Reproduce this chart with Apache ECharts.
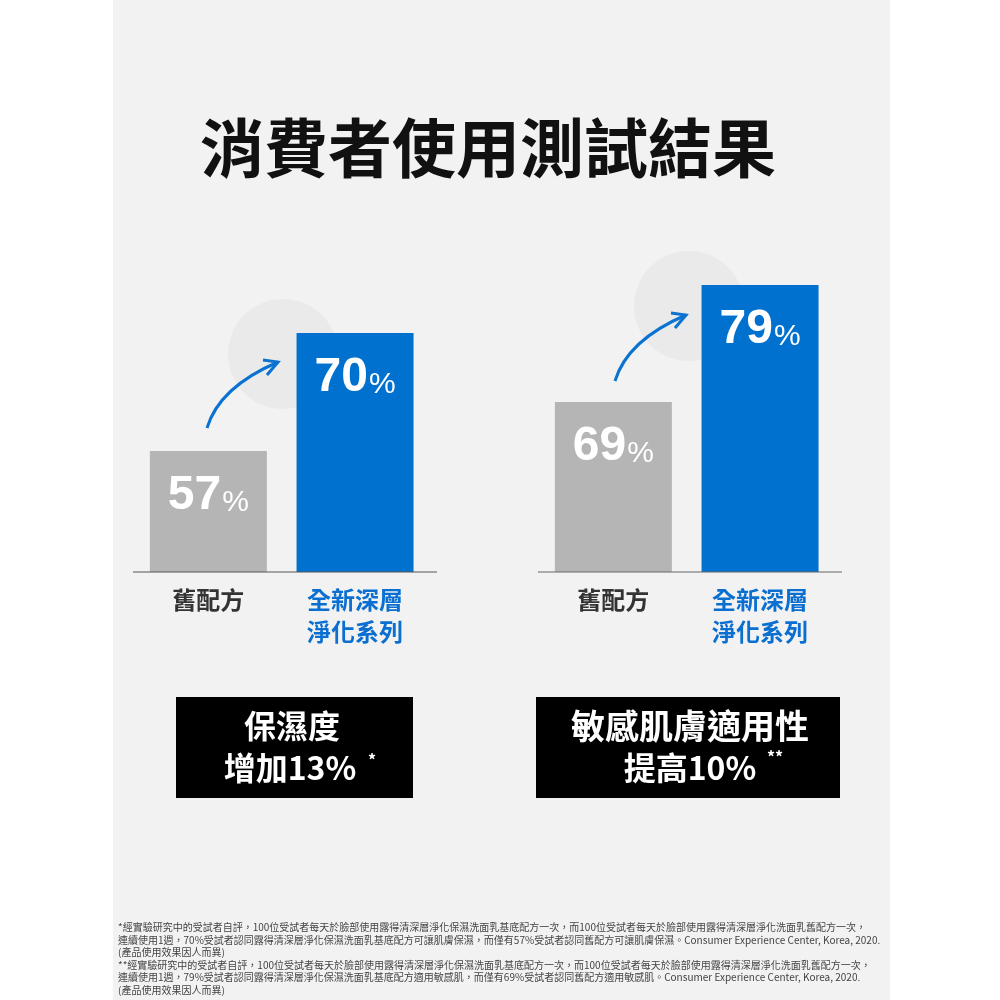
<!DOCTYPE html>
<html>
<head>
<meta charset="utf-8">
<script src="https://cdn.jsdelivr.net/npm/echarts@6/dist/echarts.min.js"></script>
<style>
html,body{margin:0;padding:0;background:#fff;}
#chart{width:1000px;height:1000px;}
</style>
</head>
<body>
<div id="chart"></div>
<script>
// ---- data ----
const titleText = '消費者使用測試結果';
const categories = ['舊配方', '全新深層\n淨化系列'];
const moistureValues = [57, 70];      // 保濕度
const sensitiveValues = [69, 79];     // 敏感肌膚適用性
const boxLine1 = ['保濕度', '敏感肌膚適用性'];
const boxLine2 = ['增加13%', '提高10%'];
const boxMarks = ['*', '**'];
const footnotes = [
  '*經實驗研究中的受試者自評，100位受試者每天於臉部使用露得清深層淨化保濕洗面乳基底配方一次，而100位受試者每天於臉部使用露得清深層淨化洗面乳舊配方一次，',
  '連續使用1週，70%受試者認同露得清深層淨化保濕洗面乳基底配方可讓肌膚保濕，而僅有57%受試者認同舊配方可讓肌膚保濕。Consumer Experience Center, Korea, 2020.',
  '(產品使用效果因人而異)',
  '**經實驗研究中的受試者自評，100位受試者每天於臉部使用露得清深層淨化保濕洗面乳基底配方一次，而100位受試者每天於臉部使用露得清深層淨化洗面乳舊配方一次，',
  '連續使用1週，79%受試者認同露得清深層淨化保濕洗面乳基底配方適用敏感肌，而僅有69%受試者認同舊配方適用敏感肌。Consumer Experience Center, Korea, 2020.',
  '(產品使用效果因人而異)'
];

// ---- styles ----
const GRAY = '#b5b5b5';
const BLUE = '#0071ce';
const CJK = '"Noto Sans CJK TC", "Noto Sans CJK SC", sans-serif';
const NUM = '"Liberation Sans", Arial, sans-serif';
const barColors = [GRAY, BLUE];
const labelColors = ['#333333', '#0a6fd0'];

function barData(vals) {
  return vals.map((v, i) => ({ value: v, itemStyle: { color: barColors[i] } }));
}
function catData() {
  return categories.map((c, i) => ({ value: c, textStyle: { color: labelColors[i] } }));
}
const barLabel = {
  show: true,
  position: 'insideTop',
  distance: 21,
  formatter: p => '{n|' + p.value + '}{p|%}',
  rich: {
    n: { fontSize: 48, fontWeight: 'bold', fontFamily: NUM, color: '#fff', lineHeight: 48 },
    p: { fontSize: 30, fontFamily: NUM, color: '#fff', lineHeight: 30, verticalAlign: 'bottom', padding: [0, 0, 2, 1] }
  }
};
const xAxisCommon = {
  type: 'category',
  axisLine: { show: false },
  axisTick: { show: false },
  axisLabel: { fontSize: 24, fontWeight: 'bold', fontFamily: CJK, lineHeight: 32, margin: 12 }
};

const arrowShape = (sx, sy) => ({
  curve: { x1: sx, y1: sy, cpx1: sx + 9, cpy1: sy - 30, cpx2: sx + 36, cpy2: sy - 51, x2: sx + 71, y2: sy - 66 },
  head: [[sx + 56, sy - 68], [sx + 71, sy - 66], [sx + 60, sy - 53]]
});
const arrows = [arrowShape(207, 428), arrowShape(615, 381)];

const graphics = [
  { type: 'rect', z: -10, shape: { x: 113, y: 0, width: 777, height: 1000 }, style: { fill: '#f2f2f2' } },
  { type: 'circle', z: -5, shape: { cx: 283, cy: 354, r: 55 }, style: { fill: '#eaeaea' } },
  { type: 'circle', z: -5, shape: { cx: 689, cy: 306, r: 55 }, style: { fill: '#eaeaea' } },
  { type: 'line', z: 5, shape: { x1: 133, y1: 572, x2: 437, y2: 572 }, style: { stroke: '#555', lineWidth: 1 } },
  { type: 'line', z: 5, shape: { x1: 538, y1: 572, x2: 842, y2: 572 }, style: { stroke: '#666', lineWidth: 1 } }
];
arrows.forEach(a => {
  graphics.push({ type: 'bezierCurve', z: 10, shape: a.curve, style: { stroke: '#0a72d0', lineWidth: 3, fill: null } });
  graphics.push({ type: 'polyline', z: 10, shape: { points: a.head }, style: { stroke: '#0a72d0', lineWidth: 3, fill: null } });
});
// black boxes
const boxes = [
  { x: 176, y: 697, w: 237, h: 101, c1: 292, c2: 290, fs1: 32, markX: 372, markY: 760 },
  { x: 536, y: 697, w: 304, h: 101, c1: 690, c2: 690, fs1: 34, markX: 775, markY: 757 }
];
boxes.forEach((b, i) => {
  graphics.push({ type: 'rect', z: 10, shape: { x: b.x, y: b.y, width: b.w, height: b.h }, style: { fill: '#000' } });
  graphics.push({ type: 'text', z: 11, x: b.c1, y: 726, style: { text: boxLine1[i], fill: '#fff', font: 'bold ' + b.fs1 + 'px ' + CJK, textAlign: 'center', textVerticalAlign: 'middle' } });
  graphics.push({ type: 'text', z: 11, x: b.c2, y: 768, style: { text: boxLine2[i], fill: '#fff', font: 'bold 32px ' + CJK, textAlign: 'center', textVerticalAlign: 'middle' } });
  graphics.push({ type: 'text', z: 11, x: b.markX, y: b.markY, style: { text: boxMarks[i], fill: '#fff', font: 'bold 16px ' + CJK, textAlign: 'center', textVerticalAlign: 'middle' } });
});
// footnotes
graphics.push({
  type: 'text', z: 11, x: 118, y: 921,
  style: { text: footnotes.join('\n'), fill: '#444', font: '10px ' + CJK, lineHeight: 12.6, textAlign: 'left', textVerticalAlign: 'top' }
});

const chart = echarts.init(document.getElementById('chart'), null, { renderer: 'canvas' });
chart.setOption({
  backgroundColor: '#ffffff',
  animation: false,
  title: {
    text: titleText,
    left: 195, top: 111,
    textStyle: { fontSize: 64, fontWeight: 'bold', fontFamily: CJK, color: '#111' }
  },
  grid: [
    { left: 135, width: 293.4, top: 250, bottom: 428 },
    { left: 540, width: 293.4, top: 250, bottom: 428 }
  ],
  xAxis: [
    Object.assign({ gridIndex: 0, data: catData() }, xAxisCommon),
    Object.assign({ gridIndex: 1, data: catData() }, xAxisCommon)
  ],
  yAxis: [
    { gridIndex: 0, type: 'value', show: false, min: 43.67, max: 79.14, splitLine: { show: false } },
    { gridIndex: 1, type: 'value', show: false, min: 54.47, max: 82.0, splitLine: { show: false } }
  ],
  series: [
    { type: 'bar', xAxisIndex: 0, yAxisIndex: 0, barWidth: 117, data: barData(moistureValues), label: barLabel, z: 2 },
    { type: 'bar', xAxisIndex: 1, yAxisIndex: 1, barWidth: 117, data: barData(sensitiveValues), label: barLabel, z: 2 }
  ],
  graphic: { elements: graphics }
});
</script>
</body>
</html>
